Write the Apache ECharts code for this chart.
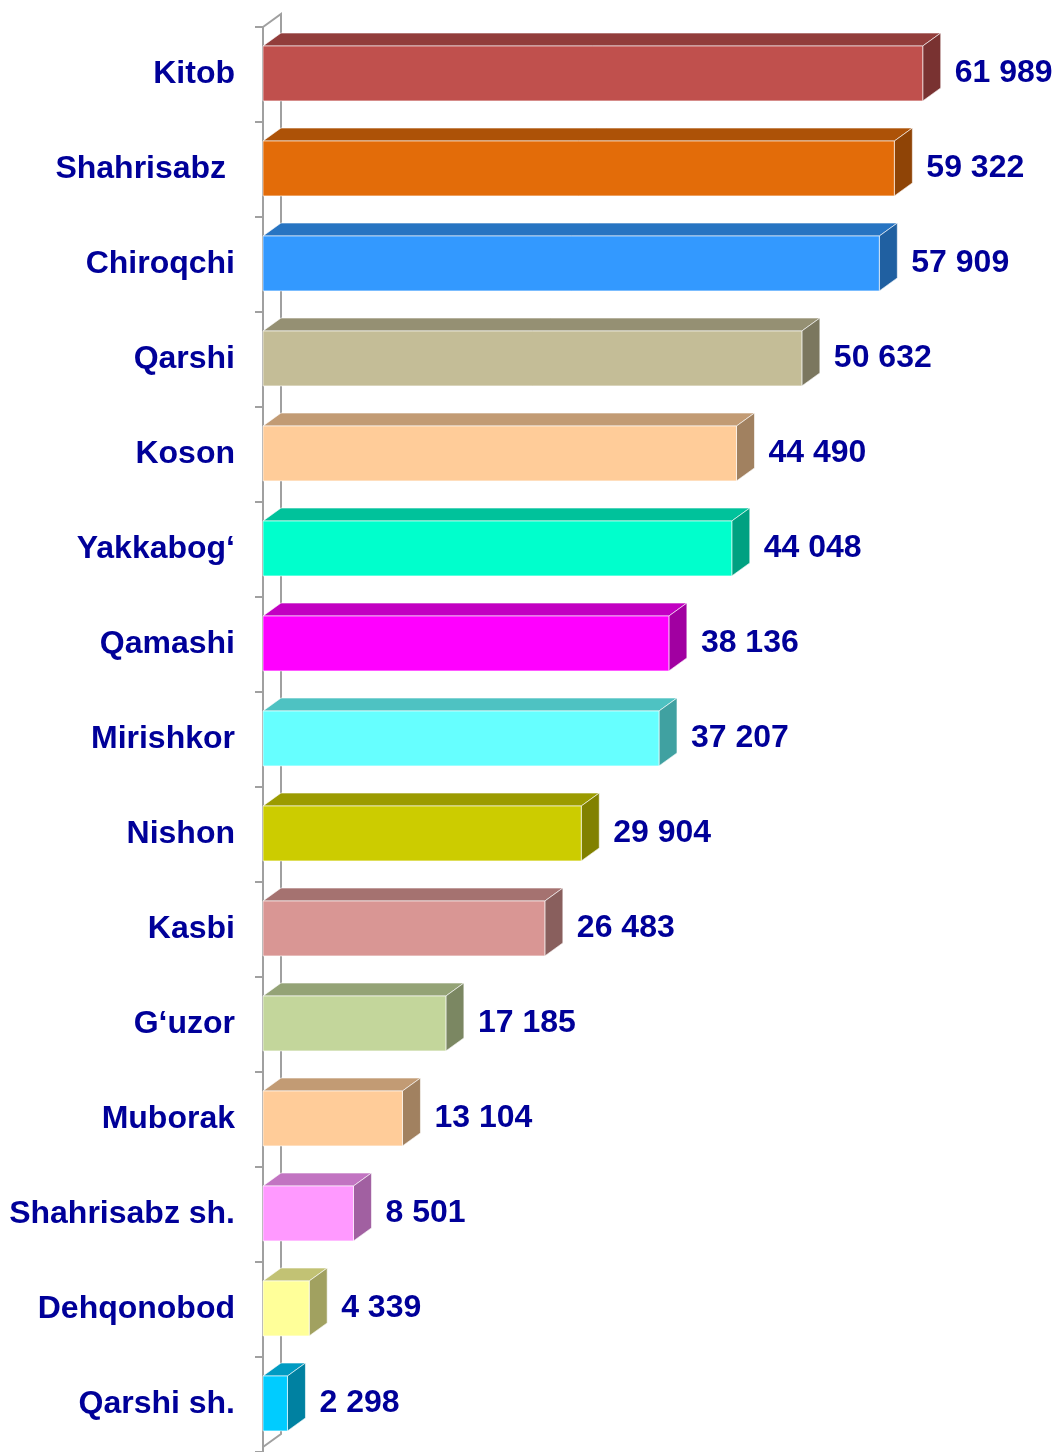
<!DOCTYPE html>
<html lang="en">
  <head>
    <meta charset="UTF-8" />
    <title>Chart</title>
    <script src="https://cdn.jsdelivr.net/npm/echarts@6/dist/echarts.min.js"></script>
    <style>
      html, body { margin: 0; padding: 0; background: #fff; }
    </style>
  </head>
  <body>
    <div id="main" style="width: 1056px;height:1452px;"></div>
    <script type="text/javascript">
      // districts, top to bottom
      var districts = [
        "Kitob", "Shahrisabz ", "Chiroqchi", "Qarshi", "Koson", "Yakkabog‘",
        "Qamashi", "Mirishkor", "Nishon", "Kasbi", "G‘uzor", "Muborak",
        "Shahrisabz sh.", "Dehqonobod", "Qarshi sh."
      ];
      var values = [
        61989, 59322, 57909, 50632, 44490, 44048,
        38136, 37207, 29904, 26483, 17185, 13104,
        8501, 4339, 2298
      ];
      var barColors = [
        "#C0504D", "#E36C09", "#3399FF", "#C4BD97", "#FFCC99", "#00FFCC",
        "#FF00FF", "#66FFFF", "#CCCC00", "#D99694", "#C3D69B", "#FFCC99",
        "#FF99FF", "#FFFF99", "#00CCFF"
      ];

      var DX = 18, DY = -13;
      var textColor = "#000099";
      var font = "'Liberation Sans', Arial, sans-serif";

      function shade(hex, f) {
        var n = parseInt(hex.slice(1), 16);
        var r = Math.round(((n >> 16) & 255) * f);
        var g = Math.round(((n >> 8) & 255) * f);
        var b = Math.round((n & 255) * f);
        return "rgb(" + r + "," + g + "," + b + ")";
      }

      function fmt(v) {
        return String(v).replace(/\B(?=(\d{3})+(?!\d))/g, " ");
      }

      // back wall + floor line of the 3d axis
      function renderWall(params, api) {
        var cs = params.coordSys;
        var x = cs.x, y = cs.y, h = cs.height - 5;
        return {
          type: "polyline",
          shape: {
            points: [[x, y], [x + DX, y + DY], [x + DX, y + h + DY], [x, y + h]]
          },
          style: { stroke: "#A0A0A0", lineWidth: 2, fill: null }
        };
      }

      function renderBar(params, api) {
        var val = api.value(0);
        var idx = api.value(1);
        var p0 = api.coord([0, idx]);
        var p1 = api.coord([val, idx]);
        var band = api.size([0, 1])[1];
        var top = p0[1] - band * 0.3;
        var h = band * 0.578;
        var x0 = p0[0], x1 = p1[0];
        var c = barColors[idx];
        var edge = "rgba(255,255,255,0.6)";
        return {
          type: "group",
          children: [
            {
              type: "polygon",
              shape: { points: [[x0, top], [x1, top], [x1 + DX, top + DY], [x0 + DX, top + DY]] },
              style: { fill: shade(c, 0.76), stroke: edge, lineWidth: 1 }
            },
            {
              type: "polygon",
              shape: { points: [[x1, top], [x1 + DX, top + DY], [x1 + DX, top + h + DY], [x1, top + h]] },
              style: { fill: shade(c, 0.63), stroke: edge, lineWidth: 1 }
            },
            {
              type: "rect",
              shape: { x: x0, y: top, width: x1 - x0, height: h },
              style: { fill: c, stroke: edge, lineWidth: 1 }
            },
            {
              type: "text",
              x: x1 + DX + 14,
              y: top + h / 2,
              style: {
                text: fmt(val),
                fill: textColor,
                font: "bold 32px " + font,
                verticalAlign: "middle",
                align: "left"
              }
            }
          ]
        };
      }

      var barData = values.map(function (v, i) { return [v, i]; });

      var myChart = echarts.init(document.getElementById("main"));
      myChart.setOption({
        animation: false,
        grid: { left: 263, right: 48, top: 27, bottom: -3 },
        xAxis: { type: "value", min: 0, max: 70000, show: false },
        yAxis: {
          type: "category",
          inverse: true,
          data: districts,
          axisLine: { show: true, lineStyle: { color: "#A0A0A0", width: 2 } },
          axisTick: { show: true, length: 8, lineStyle: { color: "#A0A0A0", width: 2 } },
          axisLabel: {
            margin: 28,
            color: textColor,
            fontSize: 32,
            fontWeight: "bold",
            fontFamily: font
          },
          splitLine: { show: false }
        },
        series: [
          {
            type: "custom",
            renderItem: renderWall,
            data: [[0, 0]],
            encode: { x: 0, y: 1 },
            silent: true,
            z: 1
          },
          {
            type: "custom",
            renderItem: renderBar,
            data: barData,
            encode: { x: 0, y: 1 },
            z: 2
          }
        ]
      });
    </script>
  </body>
</html>
